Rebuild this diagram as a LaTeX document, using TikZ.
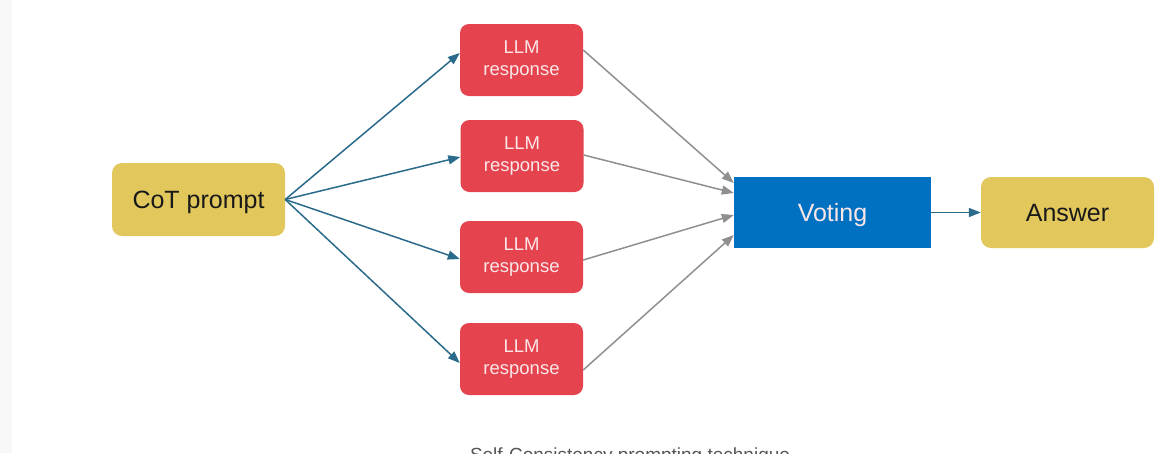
\documentclass[tikz,border=0pt]{standalone}
\usepackage{fontspec}
\setmainfont{Liberation Sans}
\usetikzlibrary{arrows.meta}
\definecolor{boxyellow}{HTML}{E2C85C}
\definecolor{boxred}{HTML}{E5444F}
\definecolor{boxblue}{HTML}{0070C0}
\definecolor{arrteal}{HTML}{2A6A8A}
\definecolor{arrgray}{HTML}{8F8F8F}
\definecolor{lighttxt}{HTML}{FBE6E8}
\definecolor{captxt}{HTML}{555555}
\definecolor{strip}{HTML}{F8F8F8}
\tikzset{
  base/.style={inner sep=0pt, align=center},
  ybox/.style={base, fill=boxyellow, rounded corners=10pt, minimum width=173pt, minimum height=73pt, font=\fontsize{25}{28}\selectfont, text=black!90, text height=18pt, text depth=0pt},
  rbox/.style={base, fill=boxred, rounded corners=9pt, minimum width=123pt, minimum height=72pt, font=\fontsize{18.5}{21.5}\selectfont, text=lighttxt},
  vbox/.style={base, fill=boxblue, minimum width=197pt, minimum height=71pt, font=\fontsize{25}{28}\selectfont, text=lighttxt, text height=18pt, text depth=0pt},
  tealarr/.style={draw=arrteal, line width=1.5pt, -{Triangle[length=12pt,width=9pt]}},
  grayarr/.style={draw=arrgray, line width=1.5pt, -{Triangle[length=12pt,width=9pt]}},
}
\begin{document}
\begin{tikzpicture}[x=1pt,y=-1pt]
\useasboundingbox (0,0) rectangle (1169,453);
\begin{scope}
\clip (0,0) rectangle (1169,453);
\fill[strip] (0,0) rectangle (12,453);
\node[ybox] (cot) at (198.5,199.5) {CoT prompt};
\node[rbox] (l1) at (521.5,60) {LLM\\response};
\node[rbox] (l2) at (522,156) {LLM\\response};
\node[rbox] (l3) at (521.5,257) {LLM\\response};
\node[rbox] (l4) at (521.5,359) {LLM\\response};
\node[vbox] (vote) at (832.5,212.5) {Voting};
\node[ybox, minimum height=71pt] (ans) at (1067.5,212.5) {Answer};
\draw[tealarr] (cot.east) -- ([yshift=7pt]l1.west);
\draw[tealarr] (cot.east) -- ([yshift=-1pt]l2.west);
\draw[tealarr] (cot.east) -- ([yshift=-2pt]l3.west);
\draw[tealarr] (cot.east) -- ([yshift=-4pt]l4.west);
\draw[grayarr] ([yshift=10pt]l1.east) -- ([yshift=29.5pt]vote.west);
\draw[grayarr] ([yshift=1pt]l2.east) -- ([yshift=19.5pt]vote.west);
\draw[grayarr] ([yshift=-3pt]l3.east) -- ([yshift=-2.5pt]vote.west);
\draw[grayarr] ([yshift=-11pt]l4.east) -- ([yshift=-22.5pt]vote.west);
\draw[tealarr] (vote.east) -- (ans.west);
\node[anchor=base, text=captxt, font=\fontsize{19}{22}\selectfont] (cap) at (630,461) {Self-Consistency prompting technique};
\end{scope}
\end{tikzpicture}
\end{document}
